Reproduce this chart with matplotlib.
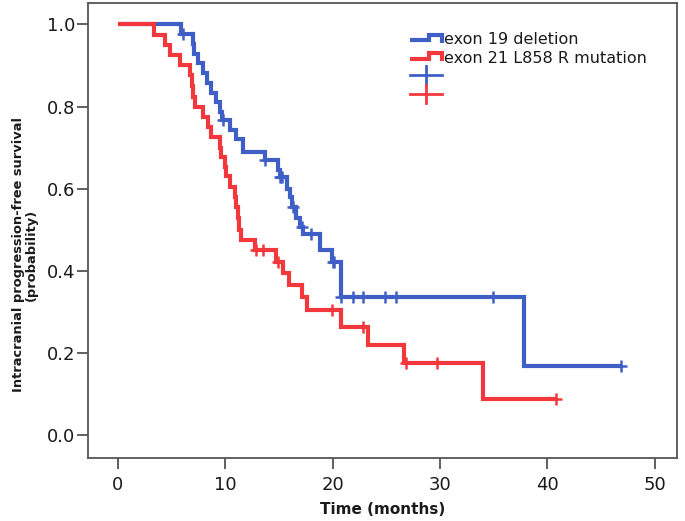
import numpy as np
import matplotlib
matplotlib.use("Agg")
import matplotlib.pyplot as plt
from matplotlib.lines import Line2D
from matplotlib.legend_handler import HandlerBase

# ---- data ----
blue_label = "exon 19 deletion"
red_label = "exon 21 L858 R mutation"

blue_t = [0, 5.9, 7.0, 7.1, 7.5, 7.9, 8.3, 8.7, 9.1, 9.5, 9.7, 10.4, 11.0, 11.6,
          13.7, 14.9, 15.1, 15.7, 16.0, 16.2, 16.6, 17.0, 17.2, 18.8, 19.9, 20.8, 37.8]
blue_s = [1.0, 0.976, 0.952, 0.929, 0.905, 0.881, 0.857, 0.833, 0.81, 0.786, 0.766,
          0.743, 0.72, 0.69, 0.67, 0.645, 0.628, 0.60, 0.58, 0.556, 0.528, 0.507,
          0.49, 0.45, 0.422, 0.336, 0.168]
blue_end = 46.9
blue_censor = [6.1, 9.8, 13.7, 15.1, 15.2, 15.3, 16.3, 17.1, 18.0, 20.0, 20.1,
               20.8, 21.9, 22.8, 24.9, 25.9, 34.9, 46.9]

red_t = [0, 3.4, 4.4, 4.8, 5.8, 6.7, 6.9, 7.0, 7.2, 7.9, 8.4, 8.7, 9.5, 9.6, 10.0,
         10.1, 10.4, 10.9, 11.0, 11.2, 11.3, 11.5, 12.8, 14.7, 15.4, 15.9, 17.1,
         17.6, 20.8, 23.3, 26.6, 34.0]
red_s = [1.0, 0.974, 0.95, 0.925, 0.90, 0.877, 0.85, 0.824, 0.80, 0.775, 0.75,
         0.726, 0.70, 0.678, 0.653, 0.63, 0.605, 0.58, 0.556, 0.528, 0.50, 0.475,
         0.45, 0.422, 0.394, 0.365, 0.337, 0.304, 0.264, 0.219, 0.176, 0.088]
red_end = 40.8
red_censor = [12.9, 13.5, 14.9, 19.9, 22.8, 26.8, 29.7, 40.8]

x_ticks = [0, 10, 20, 30, 40, 50]
y_ticks = [0.0, 0.2, 0.4, 0.6, 0.8, 1.0]

BLUE = "#3F5FC6"
RED = "#F2383D"
LW = 3.0

fig = plt.figure(figsize=(6.85, 5.21), dpi=100)
ax = fig.add_axes([0.1285, 0.1215, 0.988 - 0.1285, 0.9942 - 0.1215])


def km(ax, t, s, end, cens, color):
    tt = list(t) + [end]
    ss = list(s) + [s[-1]]
    ax.step(tt, ss, where="post", color=color, lw=LW, solid_joinstyle="miter",
            solid_capstyle="butt", zorder=3)
    idx = np.searchsorted(np.array(t), np.array(cens), side="right") - 1
    cy = np.array(s)[idx]
    ax.plot(cens, cy, ls="none", marker="+", ms=9, mew=1.8, color=color, zorder=4)


km(ax, blue_t, blue_s, blue_end, blue_censor, BLUE)
km(ax, red_t, red_s, red_end, red_censor, RED)

ax.set_xlim(-2.79, 52.05)
ax.set_ylim(-0.055, 1.052)
ax.set_xticks(x_ticks)
ax.set_xticklabels([str(v) for v in x_ticks])
ax.set_yticks(y_ticks)
ax.set_yticklabels([f"{v:.1f}" for v in y_ticks])
ax.tick_params(axis="both", direction="out", length=8, width=1.2, color="#444444",
               labelsize=13, labelcolor="#1a1a1a", pad=1)
ax.tick_params(axis="x", pad=5)
for sp in ax.spines.values():
    sp.set_color("#555555")
    sp.set_linewidth(1.3)

ax.set_xlabel("Time (months)", fontsize=11, fontweight="bold", color="#1a1a1a")
ax.xaxis.set_label_coords(0.5, -0.098)
ax.set_ylabel("Intracranial progression-free survival\n(probability)", fontsize=9.4,
              fontweight="bold", color="#1a1a1a", linespacing=1.0)
ax.yaxis.set_label_coords(-0.085, 0.446)


class StepHandler(HandlerBase):
    def __init__(self, color):
        super().__init__()
        self.color = color

    def create_artists(self, legend, orig_handle, xdescent, ydescent, width, height,
                       fontsize, trans):
        x0 = -xdescent
        ym = -ydescent + height / 2.0
        xm = x0 + 0.58 * width
        xs = [x0, xm, xm, x0 + width, x0 + width]
        ys = [ym - 1.5, ym - 1.5, ym + 2.5, ym + 2.5, ym - 3.0]
        ln = Line2D(xs, ys, color=self.color, lw=LW, solid_joinstyle="miter",
                    solid_capstyle="butt", transform=trans)
        return [ln]


class CrossHandler(HandlerBase):
    def __init__(self, color):
        super().__init__()
        self.color = color

    def create_artists(self, legend, orig_handle, xdescent, ydescent, width, height,
                       fontsize, trans):
        x0 = -xdescent
        ym = -ydescent + height / 2.0
        h = Line2D([x0, x0 + width], [ym, ym], color=self.color, lw=2.0, transform=trans)
        v = Line2D([x0 + width / 2, x0 + width / 2], [ym - 6.5, ym + 6.5],
                   color=self.color, lw=2.0, transform=trans)
        return [h, v]


hb = Line2D([], [], color=BLUE)
hr = Line2D([], [], color=RED)
cb = Line2D([], [], color=BLUE, marker="+")
cr = Line2D([], [], color=RED, marker="+")
leg = ax.legend([hb, hr, cb, cr], [blue_label, red_label, "", ""],
                handler_map={hb: StepHandler(BLUE), hr: StepHandler(RED),
                             cb: CrossHandler(BLUE), cr: CrossHandler(RED)},
                loc="upper left", bbox_to_anchor=(410 / 685, 1 - 32 / 521),
                bbox_transform=fig.transFigure, frameon=False, fontsize=11.5,
                handlelength=2.0, handletextpad=0.15, labelspacing=0.22,
                borderpad=0, borderaxespad=0)
for t in leg.get_texts():
    t.set_color("#1a1a1a")

fig.savefig("out.png", dpi=100)
